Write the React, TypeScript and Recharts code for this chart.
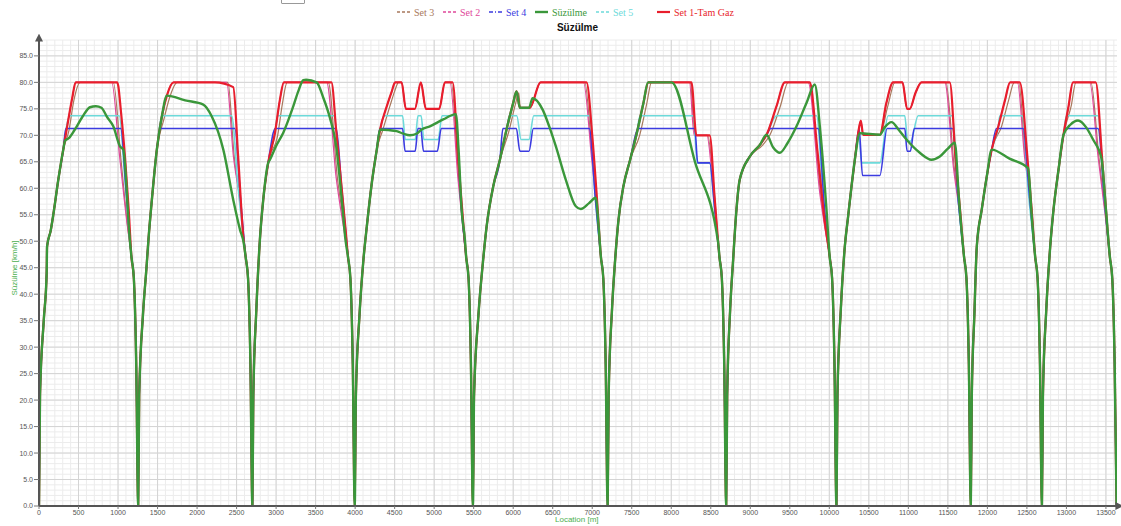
import React from 'react';
import { LineChart, Line, XAxis, YAxis, CartesianGrid } from 'recharts';

type Pt = [number, number];

// station-to-station runs; location in m, speed in km/h
const xTicks = [0, 500, 1000, 1500, 2000, 2500, 3000, 3500, 4000, 4500, 5000, 5500, 6000, 6500, 7000,
  7500, 8000, 8500, 9000, 9500, 10000, 10500, 11000, 11500, 12000, 12500, 13000, 13500];
const yTicks = [0, 5, 10, 15, 20, 25, 30, 35, 40, 45, 50, 55, 60, 65, 70, 75, 80, 85];
const X_MAX = 13640;
const Y_MAX = 88;

// common acceleration out of each station
const departures: Pt[][] = [
  [[0, 0], [13, 21], [60, 35], [97, 44], [102, 49], [148, 52], [181, 55], [244, 61.6], [307, 67.3]],
  [[1268, 21], [1315, 36], [1360, 45], [1385, 50.3], [1428, 57.8], [1491, 67.3]],
  [[2712, 21], [2750, 37], [2795, 50.3], [2837, 57.8], [2900, 64.8]],
  [[4010, 21], [4055, 36], [4105, 46.5], [4148, 52.8], [4211, 61], [4274, 67.3]],
  [[5505, 21], [5560, 36], [5620, 46.5], [5664, 52.8], [5748, 60.4], [5832, 65.4]],
  [[7208, 21], [7250, 37], [7290, 46.5], [7332, 54], [7395, 60.4], [7480, 65.4]],
  [[8708, 21], [8745, 37], [8783, 46.5], [8820, 55], [8866, 61.6], [8994, 66]],
  [[10103, 21], [10145, 37], [10196, 49], [10238, 54.7], [10281, 60.4], [10323, 65.4]],
  [[11803, 21], [11835, 36], [11866, 49], [11929, 56], [11992, 62.2], [12055, 67.3]],
  [[12703, 21], [12745, 37], [12795, 49], [12837, 56], [12900, 63.5], [12963, 70.1]],
];

// common final braking into each station
const arrivals: Pt[][] = [
  [[1170, 47], [1200, 43], [1230, 27], [1255, 0]],
  [[2615, 47], [2645, 43], [2675, 27], [2700, 0]],
  [[3910, 47], [3940, 43], [3970, 27], [3995, 0]],
  [[5405, 47], [5435, 43], [5465, 27], [5490, 0]],
  [[7110, 47], [7140, 43], [7170, 27], [7195, 0]],
  [[8610, 47], [8640, 43], [8670, 27], [8695, 0]],
  [[10005, 47], [10035, 43], [10065, 27], [10090, 0]],
  [[11705, 47], [11735, 43], [11765, 27], [11790, 0]],
  [[12605, 47], [12635, 43], [12665, 27], [12690, 0]],
  [[13550, 47], [13580, 43], [13610, 27], [13635, 0]],
];

const set1Mid: Pt[][] = [
  [[360, 72], [420, 77], [464, 80], [990, 80], [1040, 74], [1090, 65.5], [1135, 56]],
  [[1555, 73.6], [1618, 77.5], [1702, 80], [2226, 80], [2458, 79.1], [2520, 66], [2584, 51]],
  [[2985, 70.4], [3048, 76.7], [3098, 80], [3700, 80], [3760, 71], [3830, 60], [3880, 52]],
  [[4316, 71.1], [4401, 75.5], [4464, 78.3], [4506, 80], [4588, 80], [4642, 75], [4756, 75], [4832, 80], [4895, 75], [5064, 75], [5136, 80], [5233, 80], [5304, 65.4], [5360, 55]],
  [[5916, 71.1], [6000, 76.1], [6042, 78.3], [6085, 75.2], [6211, 75.2], [6346, 80], [6928, 80], [7000, 70], [7060, 58]],
  [[7564, 70.4], [7648, 76.1], [7711, 80], [8255, 80], [8318, 70], [8486, 70], [8550, 58]],
  [[9121, 68.2], [9206, 70.1], [9332, 75.5], [9437, 80], [9753, 80], [9850, 67], [9940, 54]],
  [[10365, 70.4], [10398, 72.8], [10428, 70.1], [10639, 70.1], [10720, 76], [10807, 80], [10926, 80], [10984, 75], [11018, 75], [11090, 78], [11166, 80], [11524, 80], [11600, 65], [11660, 55]],
  [[12139, 71.7], [12224, 76.7], [12287, 80], [12410, 80], [12500, 67], [12560, 56]],
  [[13027, 75.5], [13082, 80], [13371, 80], [13450, 66], [13510, 54]],
];

const set2Mid: Pt[][] = [
  [[360, 72], [420, 77], [464, 80], [920, 80], [1020, 66], [1109, 54]],
  [[1555, 73.6], [1618, 77.5], [1702, 80], [2374, 80], [2460, 66], [2541, 57.8]],
  [[2985, 70.4], [3048, 76.7], [3098, 80], [3640, 80], [3760, 62], [3860, 52]],
  [[4316, 71.1], [4401, 75.5], [4464, 78.3], [4506, 80], [4588, 80], [4642, 75], [4756, 75], [4832, 80], [4895, 75], [5064, 75], [5136, 80], [5200, 80], [5300, 62], [5360, 53]],
  [[5916, 71.1], [6000, 76.1], [6042, 78.3], [6085, 75.2], [6211, 75.2], [6346, 80], [6890, 80], [6990, 66], [7060, 56]],
  [[7564, 70.4], [7648, 76.1], [7711, 80], [8230, 80], [8290, 70], [8450, 70], [8530, 60]],
  [[9121, 68.2], [9206, 70.1], [9332, 75.5], [9437, 80], [9732, 80], [9880, 59], [9950, 52]],
  [[10365, 70.4], [10398, 72.8], [10428, 70.1], [10639, 70.1], [10720, 76], [10807, 80], [10926, 80], [10984, 75], [11018, 75], [11090, 78], [11166, 80], [11461, 80], [11570, 64], [11650, 55]],
  [[12139, 71.7], [12224, 76.7], [12287, 80], [12380, 80], [12470, 66], [12550, 57]],
  [[13027, 75.5], [13082, 80], [13295, 80], [13400, 66], [13490, 55]],
];

const set3Mid: Pt[][] = [
  [[380, 71], [440, 76.5], [520, 80], [940, 80], [1040, 65], [1120, 53]],
  [[1580, 73], [1650, 77], [1750, 80], [2390, 80], [2470, 66], [2550, 57]],
  [[3020, 70], [3080, 76], [3140, 80], [3660, 80], [3775, 62], [3870, 52]],
  [[4350, 71], [4440, 75.5], [4500, 78.3], [4550, 80], [4590, 80], [4642, 75], [4756, 75], [4832, 80], [4895, 75], [5064, 75], [5136, 80], [5215, 80], [5310, 62], [5365, 53]],
  [[5950, 71], [6030, 76], [6070, 78], [6090, 75.2], [6211, 75.2], [6346, 80], [6905, 80], [7000, 66], [7065, 56]],
  [[7600, 70], [7690, 76], [7750, 80], [8240, 80], [8300, 70], [8460, 70], [8540, 60]],
  [[9160, 68.2], [9250, 70.1], [9380, 75.5], [9480, 80], [9745, 80], [9890, 59], [9955, 52]],
  [[10365, 70], [10398, 72.5], [10428, 70.1], [10639, 70.1], [10740, 75.5], [10830, 80], [10926, 80], [10984, 75], [11018, 75], [11090, 78], [11166, 80], [11475, 80], [11580, 64], [11655, 55]],
  [[12180, 71.7], [12270, 76.7], [12340, 80], [12395, 80], [12480, 66], [12555, 57]],
  [[13060, 75.5], [13120, 80], [13310, 80], [13410, 66], [13495, 55]],
];

const set4Mid: Pt[][] = [
  [[340, 71.3], [1035, 71.3], [1100, 60]],
  [[1540, 71.3], [2479, 71.3], [2550, 58]],
  [[2990, 71.3], [3760, 71.3], [3830, 60], [3880, 52]],
  [[4313, 71.3], [4600, 71.3], [4632, 67], [4760, 67], [4795, 71.3], [4830, 71.3], [4865, 67], [5040, 67], [5090, 71.3], [5274, 71.3], [5340, 57]],
  [[5870, 71.3], [6040, 71.3], [6085, 67], [6200, 67], [6255, 71.3], [6963, 71.3], [7040, 58]],
  [[7581, 71.3], [8298, 71.3], [8335, 64.8], [8486, 64.8], [8550, 56]],
  [[9121, 68.2], [9206, 70.1], [9260, 71.3], [9859, 71.3], [9940, 56]],
  [[10377, 71.3], [10420, 62.4], [10639, 62.4], [10731, 71.3], [10955, 71.3], [10984, 67], [11025, 67], [11075, 71.3], [11558, 71.3], [11630, 58]],
  [[12115, 71.3], [12452, 71.3], [12530, 59]],
  [[12985, 71.3], [13400, 71.3], [13480, 58]],
];

const set5Mid: Pt[][] = [
  [[340, 71], [392, 73.7], [1015, 73.7], [1085, 62]],
  [[1555, 73.7], [2437, 73.7], [2520, 60]],
  [[2985, 70.4], [3020, 73.7], [3730, 73.7], [3810, 62]],
  [[4316, 71.1], [4376, 73.7], [4600, 73.7], [4635, 69.2], [4760, 69.2], [4795, 73.7], [4835, 73.7], [4870, 69.2], [5050, 69.2], [5100, 73.7], [5274, 73.7], [5340, 58]],
  [[5916, 71.1], [5950, 73.7], [6045, 73.7], [6100, 69.2], [6200, 69.2], [6260, 73.7], [6963, 73.7], [7040, 58]],
  [[7564, 70.4], [7604, 73.7], [8278, 73.7], [8330, 64.8], [8486, 64.8], [8550, 56]],
  [[9121, 68.2], [9206, 70.1], [9332, 73.7], [9838, 73.7], [9930, 56]],
  [[10370, 70.4], [10410, 64.8], [10639, 64.8], [10744, 73.7], [10955, 73.7], [10990, 68.9], [11030, 68.9], [11124, 73.7], [11558, 73.7], [11630, 58]],
  [[12139, 71.7], [12157, 73.7], [12440, 73.7], [12520, 59]],
  [[13000, 73.7], [13400, 73.7], [13480, 58]],
];

const coastMid: Pt[][] = [
  [[330, 69], [380, 69.5], [450, 71], [550, 73.5], [645, 75.3], [720, 75.5], [790, 75.2], [860, 73.5], [940, 71.7], [1025, 67.9], [1067, 67.3], [1100, 62], [1140, 52]],
  [[1555, 73.6], [1618, 77.5], [1850, 76.6], [2079, 75.8], [2185, 73.6], [2332, 67.3], [2458, 57.8], [2543, 52.2], [2590, 49.7]],
  [[2922, 65.4], [3000, 68], [3091, 70.5], [3218, 75.5], [3280, 78.3], [3344, 80.4], [3380, 80.5], [3513, 80], [3597, 77.1], [3681, 73.3], [3760, 68], [3830, 58], [3880, 50]],
  [[4316, 71.1], [4420, 71], [4525, 70.8], [4610, 70.3], [4693, 70], [4778, 70.3], [4841, 71.1], [4946, 71.7], [5115, 73], [5275, 74], [5310, 67], [5347, 56], [5389, 50.3]],
  [[5916, 71.1], [6000, 76.1], [6042, 78.3], [6085, 75.2], [6200, 75.2], [6245, 77], [6371, 74.9], [6460, 71.5], [6540, 67.9], [6666, 61.6], [6792, 56.6], [6855, 56.1], [6960, 57.2], [7044, 58.2], [7080, 53]],
  [[7564, 70.4], [7648, 76.1], [7706, 80], [8004, 80], [8300, 65], [8594, 49.7]],
  [[9121, 68.2], [9206, 70.1], [9290, 67.7], [9374, 66.7], [9470, 68.5], [9585, 71.7], [9711, 76.1], [9816, 79.6], [9880, 71.7], [9964, 56]],
  [[10386, 70.4], [10639, 70.1], [10700, 71.5], [10786, 72.5], [10880, 71], [10976, 69.2], [11145, 66.7], [11293, 65.4], [11398, 66], [11500, 67.5], [11588, 68.6], [11640, 58]],
  [[12280, 65.6], [12515, 63.8], [12560, 55]],
  [[13050, 72], [13147, 72.8], [13250, 71.5], [13337, 69.2], [13443, 65.7], [13500, 56]],
];

const build = (mid: Pt[][]) =>
  departures.flatMap((d, i) => [...d, ...mid[i], ...arrivals[i]]).map(([x, y]) => ({ x, y }));

const series = [
  { name: 'Set 3', data: build(set3Mid), color: '#a8785c', width: 1.2, dash: '3 2' },
  { name: 'Set 2', data: build(set2Mid), color: '#e0489a', width: 1.2, dash: '3 2' },
  { name: 'Set 5', data: build(set5Mid), color: '#6ddada', width: 1.6, dash: '3 2' },
  { name: 'Set 4', data: build(set4Mid), color: '#3b3be0', width: 1.6, dash: '4 2 1 2' },
  { name: 'Set 1-Tam Gaz', data: build(set1Mid), color: '#e81e2c', width: 2.2, dash: '' },
  { name: 'Süzülme', data: build(coastMid), color: '#3a973a', width: 2.4, dash: '' },
];

const legendOrder = [
  { name: 'Set 3', left: 397 },
  { name: 'Set 2', left: 443 },
  { name: 'Set 4', left: 489 },
  { name: 'Süzülme', left: 535 },
  { name: 'Set 5', left: 596 },
  { name: 'Set 1-Tam Gaz', left: 657 },
];

const minorX = Array.from({ length: 137 }, (_, i) => i * 100);
const minorY = Array.from({ length: 89 }, (_, i) => i);

const scaleOf = (axis: any) => (v: number) => {
  const s = axis && axis.scale;
  if (typeof s === 'function') return s(v);
  if (s && typeof s.map === 'function') return s.map(v);
  return NaN;
};

const LegendIcon = ({ color, dash, width }: { color: string; dash: string; width: number }) => (
  <svg width={13} height={6} style={{ display: 'block' }}>
    <line x1={0} y1={3} x2={13} y2={3} stroke={color} strokeWidth={Math.max(width, 1.5)} strokeDasharray={dash || undefined} />
  </svg>
);

export default function App() {
  return (
    <div style={{ position: 'absolute', left: 0, top: 0, width: 1121, height: 526, background: '#fff', overflow: 'hidden' }}>
      <div style={{ position: 'absolute', left: 281, top: -12, width: 22, height: 14, border: '1px solid #999', borderRadius: 1 }} />
      {legendOrder.map((item) => {
        const s = series.find((z) => z.name === item.name)!;
        return (
          <div key={item.name} style={{ position: 'absolute', left: item.left, top: 5, height: 14, display: 'flex', alignItems: 'center', gap: 4 }}>
            <LegendIcon color={s.color} dash={s.dash} width={s.width} />
            <span style={{ fontFamily: '"Liberation Serif", serif', fontSize: 10, color: s.color, whiteSpace: 'nowrap' }}>{s.name}</span>
          </div>
        );
      })}
      <div style={{ position: 'absolute', left: 0, width: 1121, top: 22, textAlign: 'center', paddingLeft: 34, boxSizing: 'border-box', fontFamily: '"Liberation Sans", Arial, sans-serif', fontSize: 10, fontWeight: 'bold', color: '#111' }}>
        Süzülme
      </div>
      <LineChart width={1121} height={526} margin={{ top: 40, right: 4, bottom: 0, left: 0 }}>
        <defs>
          <marker id="arrowHead" viewBox="0 0 10 10" refX="2" refY="5" markerWidth="4" markerHeight="4" orient="auto-start-reverse">
            <path d="M0,0 L10,5 L0,10 z" fill="#555" />
          </marker>
        </defs>
        <CartesianGrid
          stroke="#ececec"
          strokeWidth={1}
          verticalCoordinatesGenerator={({ xAxis }: any) => minorX.map(scaleOf(xAxis))}
          horizontalCoordinatesGenerator={({ yAxis }: any) => minorY.map(scaleOf(yAxis))}
        />
        <CartesianGrid
          stroke="#d4d4d4"
          strokeWidth={1}
          verticalCoordinatesGenerator={({ xAxis }: any) => xTicks.map(scaleOf(xAxis))}
          horizontalCoordinatesGenerator={({ yAxis }: any) => yTicks.map(scaleOf(yAxis))}
        />
        <XAxis
          dataKey="x"
          type="number"
          domain={[0, X_MAX]}
          ticks={xTicks}
          height={20}
          tickSize={3}
          tickMargin={1}
          tick={{ fontSize: 7, fill: '#555', fontFamily: '"Liberation Sans", Arial, sans-serif' }}
          tickLine={{ stroke: '#777' }}
          axisLine={{ stroke: '#555', strokeWidth: 2, markerEnd: 'url(#arrowHead)' }}
          allowDataOverflow
        />
        <YAxis
          type="number"
          domain={[0, Y_MAX]}
          ticks={yTicks}
          width={39}
          tickSize={5}
          tickMargin={1}
          tickFormatter={(v: number) => v.toFixed(1)}
          tick={{ fontSize: 7, fill: '#555', fontFamily: '"Liberation Sans", Arial, sans-serif' }}
          tickLine={{ stroke: '#777' }}
          axisLine={{ stroke: '#555', strokeWidth: 2, markerStart: 'url(#arrowHead)' }}
          allowDataOverflow
        />
        {series.map((s) => (
          <Line
            key={s.name}
            data={s.data}
            dataKey="y"
            name={s.name}
            type="monotone"
            stroke={s.color}
            strokeWidth={s.width}
            dot={false}
            activeDot={false}
            isAnimationActive={false}
          />
        ))}
      </LineChart>
      <div style={{ position: 'absolute', left: 555, top: 515, fontFamily: '"Liberation Sans", Arial, sans-serif', fontSize: 8, color: '#4caf50' }}>
        Location [m]
      </div>
      <div style={{ position: 'absolute', left: 14, top: 268, transform: 'translate(-50%, -50%) rotate(-90deg)', whiteSpace: 'nowrap', fontFamily: '"Liberation Sans", Arial, sans-serif', fontSize: 8, color: '#4caf50' }}>
        Süzülme [km/h]
      </div>
    </div>
  );
}
